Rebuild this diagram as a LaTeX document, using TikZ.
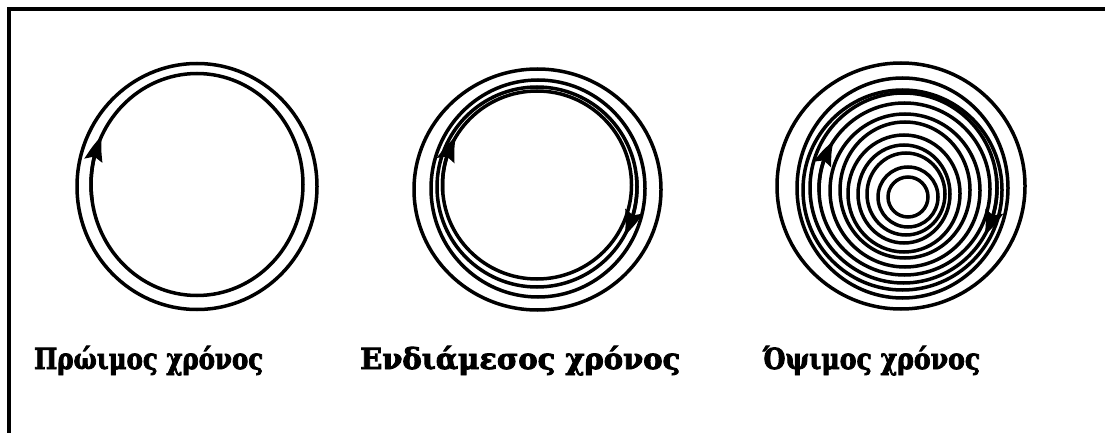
\documentclass[tikz,border=0pt]{standalone}
\usepackage{graphicx}
\usepackage{fontspec}
\setmainfont{DejaVu Serif}
\newfontfamily\lblfont{DejaVu Serif Bold}[FakeBold=3]
\usetikzlibrary{arrows.meta,bending}
\begin{document}
\begin{tikzpicture}[x=1pt,y=-1pt,
  ring/.style={line width=3.5pt},
  tipline/.style={line width=3.5pt,-{Stealth[length=26pt,width=18pt,inset=4pt,bend]}},
  lbl/.style={anchor=base west,inner sep=0pt,font=\lblfont\fontsize{29}{34}\selectfont}]
\useasboundingbox (0,0) rectangle (1105,433);
% frame
\draw[line width=3.5pt] (9,433) -- (9,9) -- (1105,9);

% ---- circle 1: early time
\coordinate (c1o) at (197,186.5);
\coordinate (c1i) at (197,184.5);
\draw[ring] (c1o) ellipse[x radius=120,y radius=123];
\draw[ring] (c1i) ellipse[x radius=106,y radius=111];
\draw[tipline] (c1i) ++(172:106 and 111) arc[start angle=172,end angle=206,x radius=106,y radius=111];

% ---- circle 2: intermediate time
\coordinate (c2a) at (537.5,189.5);
\coordinate (c2b) at (538,188.5);
\coordinate (c2c) at (537,187);
\coordinate (c2d) at (537,185);
\draw[ring] (c2a) ellipse[x radius=123.5,y radius=120.5];
\draw[ring] (c2b) ellipse[x radius=107,y radius=108.5];
\draw[ring] (c2c) ellipse[x radius=100,y radius=100];
\draw[ring] (c2d) ellipse[x radius=94.5,y radius=94];
\draw[tipline] (c2d) ++(176:94.5 and 94) arc[start angle=176,end angle=211,x radius=94.5,y radius=94];
\draw[tipline] (c2c) ++(-6:100 and 100) arc[start angle=-6,end angle=29,x radius=100,y radius=100];

% ---- circle 3: late time
\foreach \cx/\cy/\rx/\ry [count=\i] in {
  901/186/124/123, 902.5/188/105.5/110, 902.5/190/99.5/100, 903.5/188/93.5/95,
  904.5/189/85.5/86, 905/190.5/75/76.5, 905/190/65/68, 904/193.5/56/58.5,
  904/194/46/49, 906/194/39/41, 908/197/30/30, 908/197/20/20}{
  \coordinate (c3r\i) at (\cx,\cy);
  \draw[ring] (c3r\i) ellipse[x radius=\rx,y radius=\ry];
}
\draw[tipline] (c3r5) ++(178:85.5 and 86) arc[start angle=178,end angle=214,x radius=85.5,y radius=86];
\draw[tipline] (c3r4) ++(-6:93.5 and 95) arc[start angle=-6,end angle=30,x radius=93.5,y radius=95];

% ---- labels
\node[lbl] (l1) at (34,369) {\resizebox{229pt}{\height}{Πρώιμος χρόνος}};
\node[lbl] (l2) at (360,369) {\resizebox{320pt}{\height}{Ενδιάμεσος χρόνος}};
\node[lbl] (l3) at (763,369) {\resizebox{217pt}{\height}{Όψιμος χρόνος}};
\end{tikzpicture}
\end{document}
